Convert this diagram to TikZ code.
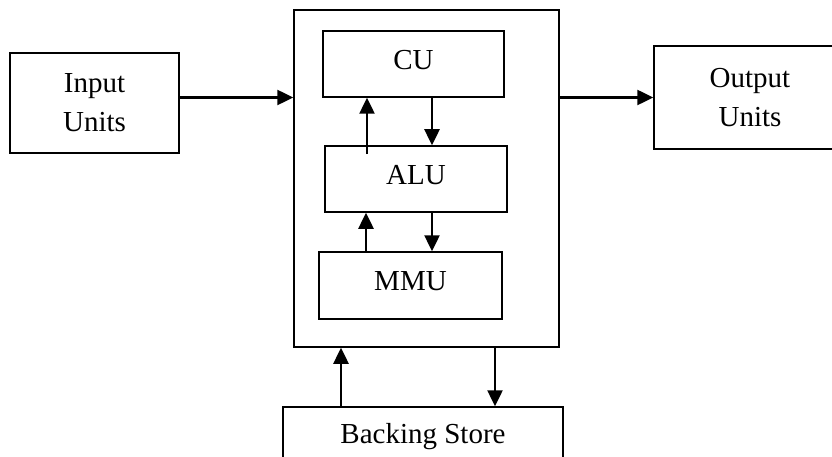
\documentclass[tikz,border=0pt]{standalone}
\usepackage{fontspec}
\setmainfont{Liberation Serif}
\usetikzlibrary{arrows.meta}

\begin{document}
\begin{tikzpicture}[x=1pt,y=-1pt,
        box/.style={draw,line width=1.5pt,inner sep=0pt,align=center,
                    font=\fontsize{29}{39}\selectfont},
        arr/.style={line width=2.5pt,-{Triangle[length=16pt,width=15pt]}}]
                \clip (0,0) rectangle (832,457);
                \node[box,minimum width=169,minimum height=100] (input) at (94.5,103) {Input\\Units};
                \node[box,minimum width=265,minimum height=337] (cpu) at (426.5,178.5) {};
                \node[box,minimum width=181,minimum height=66,text depth=9pt] (cu) at (413.5,64) {CU};
                \node[box,minimum width=182,minimum height=66,text depth=9pt] (alu) at (416,179) {ALU};
                \node[box,minimum width=183,minimum height=67,text depth=9pt] (mmu) at (410.5,285.5) {MMU};
                \node[box,minimum width=192,minimum height=103] (output) at (750,97.5) {Output\\Units};
                \node[box,minimum width=280,minimum height=60] (store) at (423,437) {Backing Store};
                \draw[arr] (input.east |- output.west) -- (cpu.west |- output.west);
                \draw[arr] (cpu.east |- output.west) -- (output.west);
                \draw[arr] (cu.south -| 432,0) -- (alu.north -| 432,0);
                \draw[arr] ([yshift=-9pt]alu.north -| 367,0) -- (cu.south -| 367,0);
                \draw[arr] (alu.south -| 432,0) -- (mmu.north -| 432,0);
                \draw[arr] (mmu.north -| 366,0) -- (alu.south -| 366,0);
                \draw[arr] (cpu.south -| 495,0) -- (store.north -| 495,0);
                \draw[arr] (store.north -| 341,0) -- (cpu.south -| 341,0);
            \end{tikzpicture}
\end{document}
